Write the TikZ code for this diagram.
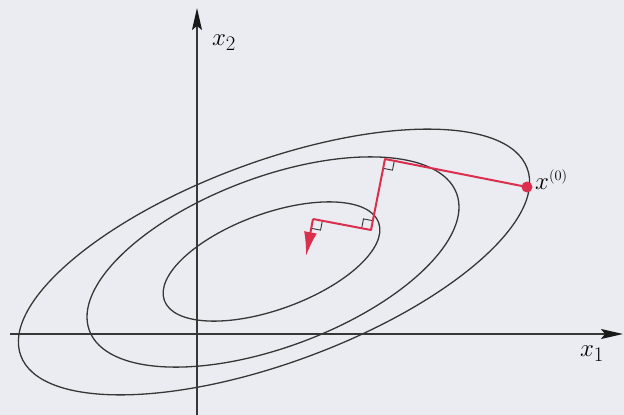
\documentclass[tikz,border=0pt]{standalone}
\usetikzlibrary{calc,arrows.meta}
\definecolor{bgc}{RGB}{235,235,242}
\definecolor{redpath}{RGB}{218,48,78}
\definecolor{curve}{RGB}{55,55,55}
\definecolor{axisc}{RGB}{55,55,55}
\begin{document}
\begin{tikzpicture}[x=1pt,y=-1pt,
  contour/.style={draw=curve,line width=1.3pt},
  axisline/.style={draw=axisc,line width=1.4pt,-{Stealth[length=22pt,width=10pt,inset=4pt,color=black!90]}},
  descent/.style={draw=redpath,line width=2pt},
  rightangle/.style={draw=black!80,line width=0.9pt},
  lab/.style={font=\fontsize{29}{34}\selectfont,inner sep=0pt}]
\fill[bgc] (0,0) rectangle (624,415);
\useasboundingbox (0,0) rectangle (624,415);
% axes
\coordinate (xs) at (10,334);
\coordinate (xe) at (623,334);
\coordinate (ys) at (197,415);
\coordinate (ye) at (197,8);
\draw[axisline] (xs) -- (xe);
\draw[axisline] (ys) -- (ye);
\node[lab] (x1) at (592,354) {$x_1$};
\node[lab] (x2) at (224,43) {$x_2$};
% contours
\draw[contour,rotate around={20:(271.5,261.5)}] (271.5,261.5) ellipse [x radius=114pt, y radius=48pt];
\draw[contour,rotate around={20.5:(273,262)}] (273,262) ellipse [x radius=196pt, y radius=85pt];
\draw[contour,rotate around={20.3:(274,262)}] (274,262) ellipse [x radius=270pt, y radius=100.5pt];
% steepest descent path
\coordinate (p0) at (527,187);
\coordinate (p1) at (385,159);
\coordinate (p2) at (371,230);
\coordinate (p3) at (313,219);
\coordinate (p4) at (306,256);
% right angle marks
\foreach \P/\A/\B in {p1/p0/p2, p2/p1/p3, p3/p2/p4}{
  \coordinate (ra) at ($(\P)!9.5pt!(\A)$);
  \coordinate (rb) at ($(\P)!9.5pt!(\B)$);
  \draw[rightangle] (ra) -- ($(ra)+(rb)-(\P)$) -- (rb);
}
\draw[descent,line join=round] (p0) -- (p1) -- (p2) -- (p3);
\draw[descent,-{Latex[length=24pt,width=13pt]}] (p3) -- (p4);
\fill[redpath] (p0) circle (5.5pt);
\node[lab,anchor=west] (x0) at (535,180) {$x^{\scriptscriptstyle(0)}$};
\end{tikzpicture}
\end{document}
